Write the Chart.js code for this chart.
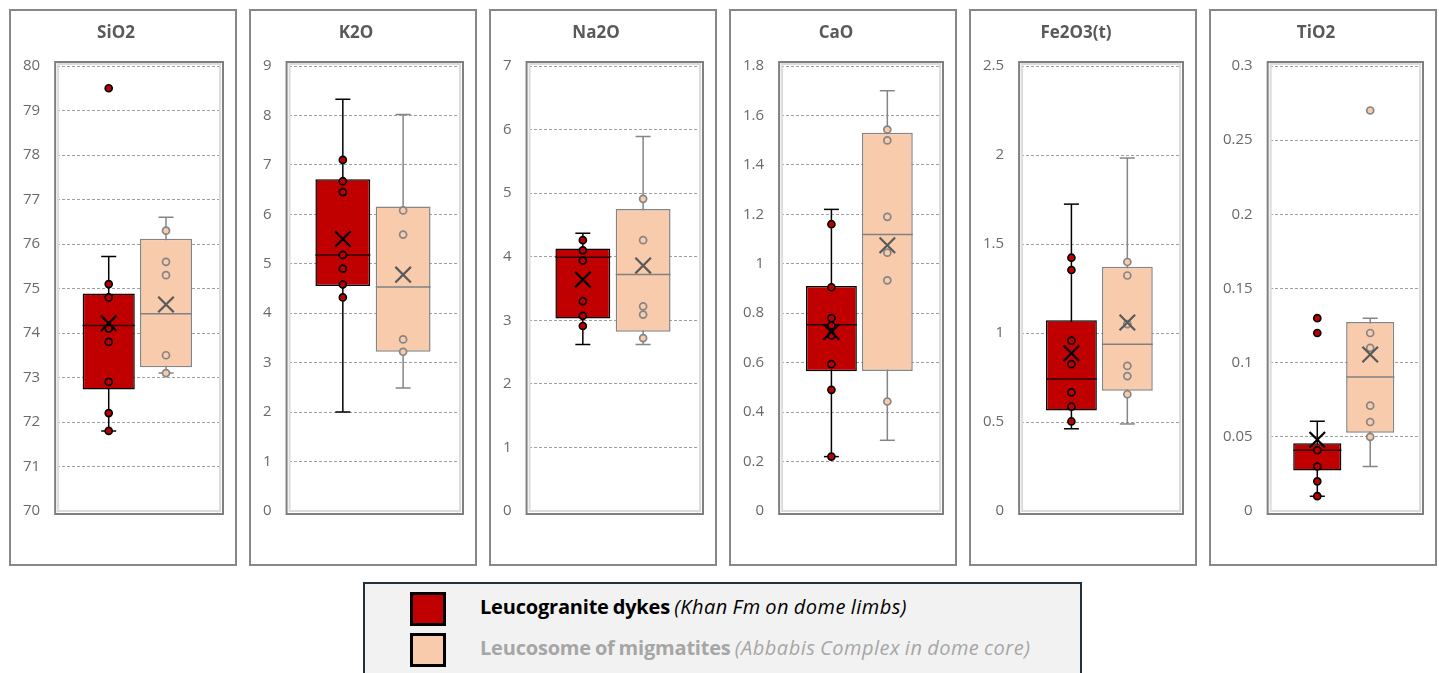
<!DOCTYPE html>
<html>
<head>
<meta charset="utf-8">
<title>Major oxides — leucogranite dykes vs leucosome</title>
<script src="https://cdn.jsdelivr.net/npm/chart.js@4.4.1/dist/chart.umd.min.js"></script>
<style>
  html, body { margin: 0; padding: 0; background: #fff; width: 1439px; height: 673px; overflow: hidden; }
  .panel { position: absolute; top: 9px; width: 224px; height: 553px; border: 2px solid #878787; background: #fff; }
  .panel canvas { display: block; }
  #legend { position: absolute; left: 363px; top: 582px; width: 715px; height: 110px;
            border: 2px solid #23313f; background: #f2f2f2; font-family: 'Open Sans', Roboto, sans-serif; }
  .swatch { position: absolute; left: 45px; width: 30px; height: 28px; border: 3px solid #000; }
  .label { position: absolute; left: 115px; height: 34px; line-height: 34px; font-size: 20px; white-space: nowrap; word-spacing: -1px; }
  .label b { font-weight: 700; letter-spacing: -0.2px; }
  .label i { font-weight: 400; letter-spacing: 0.5px; }
</style>
</head>
<body>
<div id="charts"></div>
<div id="legend">
  <div class="swatch" style="top:8px;background:#C00000"></div>
  <div class="label" style="top:6px;color:#000"><b>Leucogranite dykes</b> <i>(Khan Fm on dome limbs)</i></div>
  <div class="swatch" style="top:49px;background:#F8CBAD"></div>
  <div class="label" style="top:47px;color:#a6a6a6"><b>Leucosome of migmatites</b> <i>(Abbabis Complex in dome core)</i></div>
</div>
<script>
// Oxides shown, one panel each, with their value-axis ranges
const oxides   = ['SiO2', 'K2O', 'Na2O', 'CaO', 'Fe2O3(t)', 'TiO2'];
const axisMin  = [70, 0, 0, 0, 0, 0];
const axisMax  = [80, 9, 7, 1.8, 2.5, 0.3];
const axisStep = [1, 1, 1, 0.2, 0.5, 0.05];

// Leucogranite dykes (Khan Fm on dome limbs)
const dykeLow    = [71.8, 2.0, 2.62, 0.22, 0.462, 0.01];
const dykeQ1     = [72.73, 4.55, 3.03, 0.565, 0.564, 0.0273];
const dykeMedian = [74.17, 5.18, 3.99, 0.753, 0.741, 0.041];
const dykeQ3     = [74.89, 6.71, 4.13, 0.91, 1.071, 0.0457];
const dykeHigh   = [75.72, 8.33, 4.37, 1.22, 1.724, 0.0605];
const dykeMean   = [74.22, 5.5, 3.64, 0.724, 0.886, 0.048];
const dykeSamples = [
  [79.5, 75.1, 74.8, 74.1, 73.8, 72.9, 72.2, 71.8],
  [7.1, 6.67, 6.45, 5.18, 4.9, 4.58, 4.32],
  [4.26, 4.10, 3.94, 3.30, 3.07, 2.91],
  [1.16, 0.905, 0.78, 0.75, 0.71, 0.594, 0.49, 0.22],
  [1.423, 1.354, 0.957, 0.825, 0.666, 0.586, 0.503],
  [0.13, 0.12, 0.041, 0.03, 0.02, 0.01]
];

// Leucosome of migmatites (Abbabis Complex in dome core)
const migLow    = [73.1, 2.49, 2.62, 0.286, 0.489, 0.03];
const migQ1     = [73.23, 3.22, 2.82, 0.566, 0.676, 0.0527];
const migMedian = [74.43, 4.53, 3.72, 1.118, 0.937, 0.0904];
const migQ3     = [76.12, 6.16, 4.75, 1.53, 1.372, 0.1275];
const migHigh   = [76.6, 8.02, 5.89, 1.70, 1.983, 0.13];
const migMean   = [74.64, 4.78, 3.86, 1.075, 1.059, 0.1055];
const migSamples = [
  [76.3, 75.6, 75.3, 73.5, 73.1],
  [6.08, 5.59, 3.47, 3.22],
  [4.91, 4.26, 3.22, 3.09, 2.72],
  [1.543, 1.499, 1.19, 1.045, 0.933, 0.443],
  [1.399, 1.323, 1.05, 0.815, 0.758, 0.656],
  [0.27, 0.12, 0.11, 0.071, 0.06, 0.05]
];

// Group slots on the hidden x axis
const groupSlot = [0, 1];

const DYKE = { fill: '#C00000', edge: '#000000', median: '#2a0000', mean: '#000000' };
const MIG  = { fill: '#F8CBAD', edge: '#858585', median: '#808080', mean: '#595959' };
const BAR_PCT = 0.91;
const FONT = "'Open Sans', 'Liberation Sans', sans-serif";

// Double frame around the plot area
const plotFrame = {
  id: 'plotFrame',
  beforeDatasetsDraw(chart) {
    const { ctx, chartArea: a } = chart;
    ctx.save();
    ctx.lineWidth = 2;
    ctx.strokeStyle = '#dcdcdc';
    ctx.strokeRect(a.left + 1, a.top - 2, a.right - a.left - 2, a.bottom - a.top + 2);
    ctx.strokeStyle = '#7f7f7f';
    ctx.strokeRect(a.left - 2, a.top - 4, a.right - a.left + 4, a.bottom - a.top + 7);
    ctx.restore();
  }
};

function halfBox(ctx) {
  const s = ctx.chart.scales.x;
  return (s.getPixelForValue(groupSlot[1]) - s.getPixelForValue(groupSlot[0])) * BAR_PCT / 2;
}

function whisker(slot, lo, hi, color) {
  return {
    type: 'line', order: 5,
    data: [{ x: slot, y: lo }, { x: slot, y: hi }],
    borderColor: color, borderWidth: 1.5,
    pointStyle: 'line', pointRadius: 7.5, pointBorderWidth: 1.5, pointBorderColor: color
  };
}

function samples(slot, values, style) {
  return {
    type: 'line', order: 1, showLine: false,
    data: values.map(v => ({ x: slot, y: v })),
    pointStyle: 'circle', pointRadius: 3.5, pointBorderWidth: 1.7,
    pointBackgroundColor: style.fill, pointBorderColor: style.edge
  };
}

const host = document.getElementById('charts');

oxides.forEach((name, i) => {
  const panel = document.createElement('div');
  panel.className = 'panel';
  panel.style.left = (9 + 240 * i) + 'px';
  const canvas = document.createElement('canvas');
  canvas.width = 224;
  canvas.height = 553;
  panel.appendChild(canvas);
  host.appendChild(panel);

  new Chart(canvas, {
    type: 'bar',
    data: {
      datasets: [
        whisker(groupSlot[0], dykeLow[i], dykeHigh[i], DYKE.edge),
        whisker(groupSlot[1], migLow[i], migHigh[i], MIG.edge),
        {
          type: 'bar', order: 4,
          data: [
            { x: groupSlot[0], y: [dykeQ1[i], dykeQ3[i]] },
            { x: groupSlot[1], y: [migQ1[i], migQ3[i]] }
          ],
          backgroundColor: [DYKE.fill, MIG.fill],
          borderColor: [DYKE.edge, MIG.edge],
          borderWidth: 1.5, borderSkipped: false,
          categoryPercentage: 1, barPercentage: BAR_PCT
        },
        {
          type: 'line', order: 3, showLine: false,
          data: [{ x: groupSlot[0], y: dykeMedian[i] }, { x: groupSlot[1], y: migMedian[i] }],
          pointStyle: 'line', pointRadius: halfBox, pointBorderWidth: 1.5,
          pointBorderColor: [DYKE.median, MIG.median]
        },
        samples(groupSlot[0], dykeSamples[i], DYKE),
        samples(groupSlot[1], migSamples[i], MIG),
        {
          type: 'line', order: 0, showLine: false,
          data: [{ x: groupSlot[0], y: dykeMean[i] }, { x: groupSlot[1], y: migMean[i] }],
          pointStyle: 'crossRot', pointRadius: 11, pointBorderWidth: 2.2,
          pointBorderColor: [DYKE.mean, MIG.mean]
        }
      ]
    },
    options: {
      responsive: false,
      animation: false,
      events: [],
      layout: { padding: { left: 0, right: 14, top: 0, bottom: 53 } },
      plugins: {
        legend: { display: false },
        tooltip: { enabled: false },
        title: {
          display: true, text: name, color: '#595959',
          font: { family: FONT, size: 17, weight: 'bold', lineHeight: 1.2 },
          padding: { top: 11.5, bottom: 23.1 }
        }
      },
      scales: {
        x: {
          type: 'linear', display: false, offset: false, min: -0.9, max: 1.96,
          afterBuildTicks: s => { s.ticks = groupSlot.map(v => ({ value: v })); }
        },
        y: {
          min: axisMin[i], max: axisMax[i],
          ticks: {
            stepSize: axisStep[i], padding: 17, color: '#6a6a6a',
            font: { family: FONT, size: 15 },
            callback: v => String(Number(v.toFixed(4)))
          },
          grid: { color: '#a0a0a0', lineWidth: 1, drawTicks: false },
          border: { display: false, dash: [3, 2] },
          // keep only a small margin to the left of the tick labels
          afterFit: s => { s.width -= 5; }
        }
      }
    },
    plugins: [plotFrame]
  });
});
</script>
</body>
</html>
